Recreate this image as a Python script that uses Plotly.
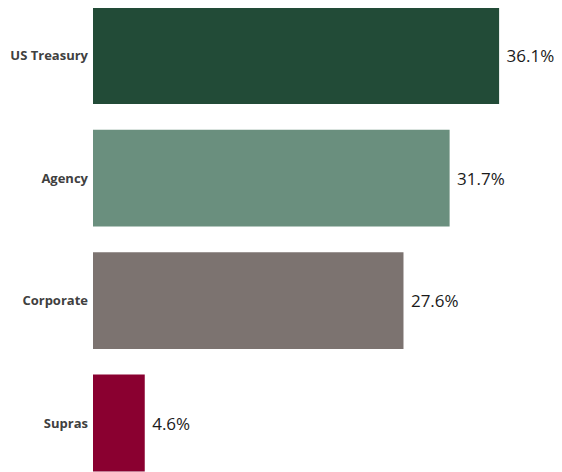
import plotly.graph_objects as go

categories = ["US Treasury", "Agency", "Corporate", "Supras"]
values = [36.1, 31.7, 27.6, 4.6]
labels = ["36.1%", "31.7%", "27.6%", "4.6%"]
colors = ["#224b37", "#6a8f7e", "#7c7370", "#8a0030"]

# page body adds an 8px margin, so the figure is sized to fit inside the window
fig = go.Figure(
    go.Bar(
        x=values, y=categories, orientation="h",
        marker=dict(color=colors, line=dict(width=0)),
        text=[" " + t for t in labels], textposition="outside",
        textfont=dict(family="Open Sans, Calibri, sans-serif", size=17, color="#1a1a1a"),
        cliponaxis=False,
        width=0.79,
    )
)

fig.update_layout(
    width=554, height=464,
    margin=dict(t=0, b=0, l=85, r=0, autoexpand=False),
    plot_bgcolor="white",
    paper_bgcolor="white",
    showlegend=False,
    xaxis=dict(range=[0, 41.69], visible=False, showgrid=False, zeroline=False),
    yaxis=dict(
        autorange=False, range=[3.4, -0.388], automargin=False,
        showgrid=False, zeroline=False, showline=False,
        ticks="", ticklabelstandoff=4,
        tickfont=dict(family="Open Sans, Calibri, sans-serif", size=13, color="#404040", weight="bold"),
    ),
)

fig.write_html("out.html")
